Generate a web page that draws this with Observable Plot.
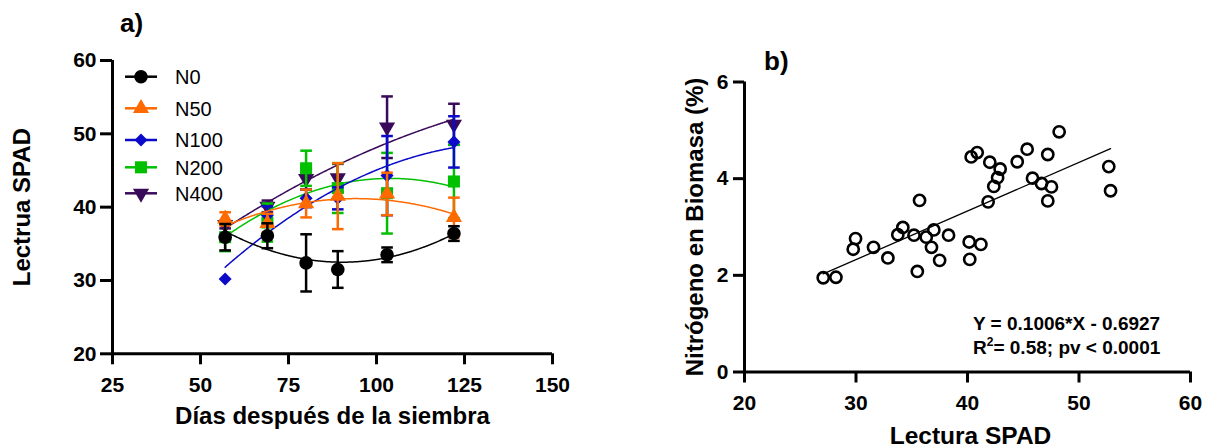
<!DOCTYPE html>
<html>
<head>
<meta charset="utf-8">
<script src="https://cdn.jsdelivr.net/npm/d3@7"></script>
<script src="https://cdn.jsdelivr.net/npm/@observablehq/plot@0.6"></script>
<style>
  html, body { margin: 0; padding: 0; background: #fff; }
  #wrap { position: relative; width: 1220px; height: 448px; overflow: hidden; font-family: "Liberation Sans", Arial, sans-serif; }
  #wrap > .panel { position: absolute; top: 0; }
  #overlay { position: absolute; left: 0; top: 0; pointer-events: none; }
</style>
</head>
<body>
<div id="wrap">
  <div class="panel" id="pa" style="left:0px"></div>
  <div class="panel" id="pb" style="left:600px"></div>
</div>
<script>
// ---------- Panel a data ----------
const days = [57, 69, 80, 89, 103, 122];
const seriesNames = ["N0", "N50", "N100", "N200", "N400"];
const seriesColors = ["#000000", "#FF6A00", "#0A0AC8", "#00C000", "#3A0A5A"];
const n0 = [35.9, 36.1, 32.4, 31.5, 33.5, 36.4];
const n0Err = [1.8, 1.7, 3.9, 2.5, 1.0, 1.0];
const n50 = [38.4, 37.8, 40.5, 41.5, 41.8, 38.6];
const n50Err = [0.9, 1.3, 1.9, 4.5, 2.9, 2.7];
const n100 = [30.2, 38.9, 41.2, 41.2, 44.3, 48.9];
const n100Err = [0, 1.2, 1.2, 1.5, 5.4, 3.5];
const n200 = [35.9, 37.9, 45.3, 42.6, 41.9, 43.5];
const n200Err = [1.9, 2.6, 2.4, 3.4, 5.5, 5.0];
const n400 = [37.6, 40.1, 43.9, 44.0, 50.9, 51.3];
const n400Err = [0.5, 0.8, 1.5, 1.9, 4.2, 2.8];
const xTicksA = [25, 50, 75, 100, 125, 150];
const yTicksA = [20, 30, 40, 50, 60];

// ---------- Panel b data ----------
const spad = [27.06, 28.2, 29.75, 29.96, 31.57, 32.86, 33.75, 34.2, 35.2, 35.7, 35.5, 36.3,
  36.77, 36.98, 37.5, 38.3, 40.15, 40.2, 41.2, 40.33, 40.87, 41.85, 42.0, 42.36,
  42.7, 42.93, 44.46, 45.35, 45.83, 46.64, 47.2, 47.2, 47.53, 48.22, 52.67, 52.83];
const nitro = [1.95, 1.96, 2.54, 2.76, 2.58, 2.36, 2.84, 2.99, 2.83, 3.55, 2.08, 2.79,
  2.58, 2.94, 2.31, 2.83, 2.69, 2.33, 2.64, 4.45, 4.54, 3.52, 4.34, 3.84,
  4.02, 4.2, 4.35, 4.61, 4.01, 3.9, 4.5, 3.54, 3.83, 4.97, 4.25, 3.75];
const slope = 0.1006, intercept = -0.6927;
const xTicksB = [20, 30, 40, 50, 60];
const yTicksB = [0, 2, 4, 6];

const FONT = '"Liberation Sans", Arial, sans-serif';

// ---------- helpers ----------
const values = [n0, n50, n100, n200, n400];
const errs = [n0Err, n50Err, n100Err, n200Err, n400Err];
const markerStyle = {
  N0: {symbol: "circle", r: 6.8, rotate: 0},
  N50: {symbol: "triangle", r: 6.0, rotate: 0},
  N100: {symbol: "square", r: 5.2, rotate: 45},
  N200: {symbol: "square", r: 6.8, rotate: 0},
  N400: {symbol: "triangle", r: 6.0, rotate: 180}
};
const capSymbol = {
  draw(ctx, size) { const r = Math.sqrt(size / Math.PI); ctx.moveTo(-r, 0); ctx.lineTo(r, 0); }
};
// least-squares quadratic fit (second-order polynomial)
function quadFit(xs, ys) {
  const mx = d3.mean(xs);
  const u = xs.map(x => x - mx);
  const S = k => d3.sum(u, v => v ** k);
  const T = k => d3.sum(u, (v, i) => v ** k * ys[i]);
  const A = [[u.length, S(1), S(2)], [S(1), S(2), S(3)], [S(2), S(3), S(4)]];
  const b = [T(0), T(1), T(2)];
  for (let i = 0; i < 3; i++) {
    for (let j = i + 1; j < 3; j++) {
      const f = A[j][i] / A[i][i];
      for (let k = i; k < 3; k++) A[j][k] -= f * A[i][k];
      b[j] -= f * b[i];
    }
  }
  const c = [0, 0, 0];
  for (let i = 2; i >= 0; i--) {
    let s = b[i];
    for (let k = i + 1; k < 3; k++) s -= A[i][k] * c[k];
    c[i] = s / A[i][i];
  }
  return x => c[0] + c[1] * (x - mx) + c[2] * (x - mx) ** 2;
}

// ---------- Panel a ----------
const marksA = [];
const order = [4, 3, 2, 1, 0];
for (const i of order) {
  const name = seriesNames[i], color = seriesColors[i], st = markerStyle[name];
  const rows = days.map((d, j) => ({day: d, value: values[i][j], err: errs[i][j]}));
  const f = quadFit(days, values[i]);
  const grid = d3.range(days[0], days[days.length - 1] + 0.01, 0.5).map(x => ({x, y: f(x)}));
  const withErr = rows.filter(r => r.err > 0);
  const caps = withErr.flatMap(r => [{day: r.day, cap: r.value - r.err}, {day: r.day, cap: r.value + r.err}]);
  marksA.push(
    Plot.line(grid, {x: "x", y: "y", stroke: color, strokeWidth: 1.5, curve: "natural"}),
    Plot.ruleX(withErr, {x: "day", y1: r => r.value - r.err, y2: r => r.value + r.err, stroke: color, strokeWidth: 2.5}),
    Plot.dot(caps, {x: "day", y: "cap", symbol: capSymbol, r: 5.8, stroke: color, fill: "none", strokeWidth: 2.5}),
    Plot.dot(rows, {x: "day", y: "value", symbol: st.symbol, r: st.r, rotate: st.rotate, fill: color, stroke: "none"})
  );
}

const plotA = Plot.plot({
  width: 600, height: 448,
  marginLeft: 112, marginRight: 48, marginTop: 60, marginBottom: 94.7,
  x: {domain: [25, 150]},
  y: {domain: [20, 60]},
  style: {fontFamily: FONT, color: "black", background: "transparent", overflow: "visible"},
  marks: [
    Plot.ruleX([25], {strokeWidth: 3}),
    Plot.ruleY([20], {strokeWidth: 3}),
    Plot.axisX({ticks: xTicksA, tickFormat: d3.format("d"), tickSize: 11, tickPadding: 12, fontSize: 21, fontWeight: "bold", strokeWidth: 3, label: null}),
    Plot.axisY({ticks: yTicksA, tickFormat: d3.format("d"), tickSize: 12, tickPadding: 4, fontSize: 21, fontWeight: "bold", strokeWidth: 3, label: null}),
    ...marksA,
    Plot.text(["Días después de la siembra"], {text: d => d, frameAnchor: "bottom", dy: 63, lineAnchor: "middle", textAnchor: "middle", fontSize: 24, fontWeight: "bold", fill: "black"}),
    Plot.text(["Lectrua SPAD"], {text: d => d, frameAnchor: "left", dx: -90, rotate: -90, lineAnchor: "middle", textAnchor: "middle", fontSize: 24, fontWeight: "bold", fill: "black"})
  ]
});
document.getElementById("pa").appendChild(plotA);

// ---------- Panel b ----------
const rowsB = spad.map((s, i) => ({spad: s, n: nitro[i]}));
const ext = d3.extent(spad);
const regLine = ext.map(x => ({x, y: slope * x + intercept}));
const plotB = Plot.plot({
  width: 620, height: 448,
  marginLeft: 144, marginRight: 30, marginTop: 81.5, marginBottom: 76.5,
  x: {domain: [20, 60]},
  y: {domain: [0, 6]},
  style: {fontFamily: FONT, color: "black", background: "transparent", overflow: "visible"},
  marks: [
    Plot.ruleX([20], {strokeWidth: 3}),
    Plot.ruleY([0], {strokeWidth: 3}),
    Plot.axisX({ticks: xTicksB, tickFormat: d3.format("d"), tickSize: 11, tickPadding: 12, fontSize: 21, fontWeight: "bold", strokeWidth: 3, label: null}),
    Plot.axisY({ticks: yTicksB, tickFormat: d3.format("d"), tickSize: 11, tickPadding: 5, fontSize: 21, fontWeight: "bold", strokeWidth: 3, label: null}),
    Plot.line(regLine, {x: "x", y: "y", stroke: "black", strokeWidth: 1.3}),
    Plot.dot(rowsB, {x: "spad", y: "n", r: 5.6, stroke: "black", fill: "none", strokeWidth: 2.6}),
    Plot.text(["Lectura SPAD"], {text: d => d, frameAnchor: "bottom", dx: 3, dy: 64.5, lineAnchor: "middle", textAnchor: "middle", fontSize: 24.5, fontWeight: "bold", fill: "black"}),
    Plot.text(["Nitrógeno en Biomasa (%)"], {text: d => d, frameAnchor: "left", dx: -49, rotate: -90, lineAnchor: "middle", textAnchor: "middle", fontSize: 24, fontWeight: "bold", fill: "black"})
  ]
});
document.getElementById("pb").appendChild(plotB);

// ---------- Overlay: panel labels, legend, equation ----------
const ov = d3.select("#wrap").append("svg").attr("id", "overlay")
  .attr("width", 1220).attr("height", 448)
  .style("font-family", FONT);
ov.append("text").attr("x", 120).attr("y", 32).attr("font-size", 26).attr("font-weight", "bold").text("a)");
ov.append("text").attr("x", 764).attr("y", 70).attr("font-size", 26).attr("font-weight", "bold").text("b)");

const legendY = [76.7, 108.3, 140, 167.3, 193.3];
seriesNames.forEach((name, i) => {
  const st = markerStyle[name], color = seriesColors[i];
  const g = ov.append("g").attr("transform", `translate(0,${legendY[i]})`);
  g.append("line").attr("x1", 125).attr("x2", 157).attr("y1", 0).attr("y2", 0).attr("stroke", color).attr("stroke-width", 2.5);
  const sym = {circle: d3.symbolCircle, triangle: d3.symbolTriangle, square: d3.symbolSquare}[st.symbol];
  g.append("path").attr("d", d3.symbol(sym, Math.PI * st.r * st.r)())
    .attr("transform", `translate(141,0) rotate(${st.rotate})`).attr("fill", color);
  g.append("text").attr("x", 175).attr("y", 0).attr("dy", "0.36em").attr("font-size", 20).text(name);
});

const eq = ov.append("g").attr("font-size", 19).attr("font-weight", "bold");
eq.append("text").attr("x", 973).attr("y", 329.8).text("Y = 0.1006*X - 0.6927");
const t2 = eq.append("text").attr("x", 973).attr("y", 353.5);
t2.append("tspan").text("R");
t2.append("tspan").attr("font-size", 12).attr("dy", -7.5).text("2");
t2.append("tspan").attr("dy", 7.5).text("= 0.58; pv < 0.0001");
</script>
</body>
</html>
